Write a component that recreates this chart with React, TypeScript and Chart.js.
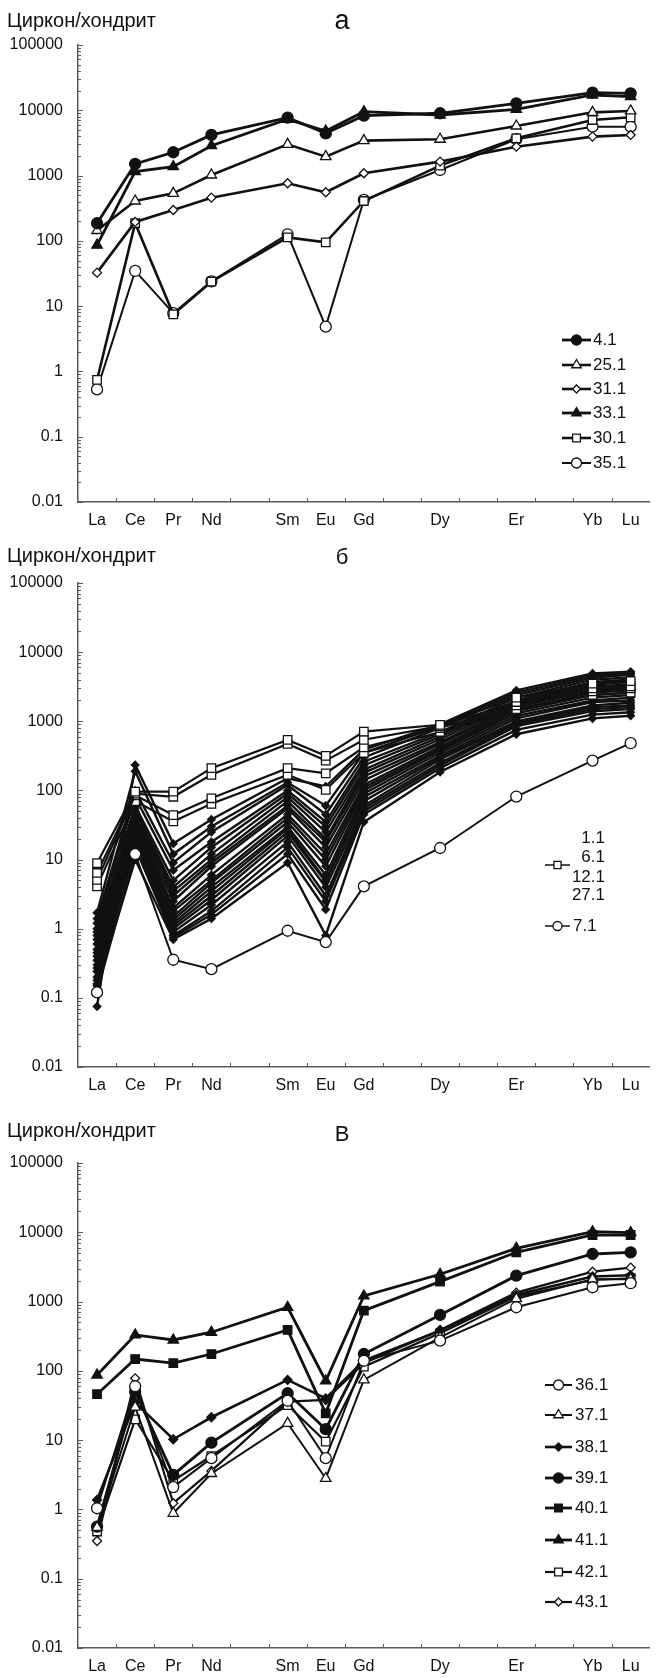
import React, { useEffect, useRef } from "react";
import { Chart, registerables } from "chart.js";
import { drawPoint } from "chart.js/helpers";

Chart.register(...registerables);

// ---------- categories ----------
const elements = ["La", "Ce", "Pr", "Nd", "Pm", "Sm", "Eu", "Gd", "Tb", "Dy", "Ho", "Er", "Tm", "Yb", "Lu"];
const axisLabels = ["La", "Ce", "Pr", "Nd", "", "Sm", "Eu", "Gd", "", "Dy", "", "Er", "", "Yb", "Lu"];
const measured = ["La", "Ce", "Pr", "Nd", "Sm", "Eu", "Gd", "Dy", "Er", "Yb", "Lu"];
const yTickValues = [0.01, 0.1, 1, 10, 100, 1000, 10000, 100000];
const yTickLabels = ["0.01", "0.1", "1", "10", "100", "1000", "10000", "100000"];

// ---------- panel а ----------
const s4_1 = [186, 1507, 2275, 4190, 7700, 4440, 8270, 9000, 12800, 18600, 18200];
const s25_1 = [144, 408, 535, 1020, 3010, 1950, 3430, 3600, 5750, 9300, 9770];
const s31_1 = [32.6, 195, 297, 459, 762, 555, 1085, 1636, 2770, 3950, 4190];
const s33_1 = [86, 1150, 1370, 2870, 7280, 4820, 9520, 8470, 10350, 17150, 16200];
const s30_1 = [0.74, 186, 7.5, 23.7, 113, 95, 408, 1420, 3720, 7100, 7810];
const s35_1 = [0.53, 34.6, 7.8, 24, 126, 4.85, 423, 1218, 3600, 5610, 5610];

// ---------- panel б ----------
const b1_1 = [8.9, 96, 96, 210, 538, 316, 710, 890, 2200, 3500, 3800];
const b6_1 = [6.4, 90, 81, 168, 471, 270, 540, 850, 1900, 3000, 3200];
const b12_1 = [5.1, 85, 44, 77, 210, 177, 420, 800, 1700, 2700, 3000];
const b27_1 = [4.1, 70, 35.6, 64, 168, 102, 350, 700, 1500, 2400, 2600];
const b7_1 = [0.12, 12, 0.356, 0.26, 0.935, 0.64, 4.1, 14.7, 81.6, 270, 482];
const bd01 = [0.075, 234, 17, 38, 150, 114, 390, 900, 2800, 4900, 5200];
const bd02 = [1.7, 190, 12, 30, 130, 60, 350, 850, 2600, 4600, 5000];
const bd03 = [1.4, 100, 9, 25, 120, 45, 300, 800, 2400, 4300, 4700];
const bd04 = [1.2, 80, 7, 18, 100, 35, 260, 700, 2200, 4000, 4300];
const bd05 = [1.0, 60, 5, 15, 90, 30, 230, 650, 2000, 3700, 4000];
const bd06 = [0.9, 55, 4, 12, 80, 25, 200, 600, 1900, 3400, 3700];
const bd07 = [0.8, 50, 3.5, 10, 70, 20, 180, 550, 1800, 3200, 3400];
const bd08 = [0.7, 45, 3, 9, 60, 18, 160, 500, 1700, 3000, 3200];
const bd09 = [0.6, 40, 2.5, 8, 55, 15, 140, 470, 1600, 2800, 3000];
const bd10 = [0.5, 38, 2.0, 6, 45, 12, 120, 430, 1500, 2600, 2800];
const bd11 = [0.45, 35, 1.8, 5, 40, 10, 110, 400, 1400, 2400, 2600];
const bd12 = [0.4, 32, 1.5, 4.6, 35, 8, 100, 380, 1300, 2200, 2400];
const bd13 = [0.35, 30, 1.35, 4, 30, 6, 90, 350, 1200, 2000, 2200];
const bd14 = [0.3, 28, 1.2, 3.5, 28, 5, 80, 320, 1100, 1900, 2000];
const bd15 = [0.27, 25, 1.1, 3, 25, 4.8, 70, 300, 1000, 1700, 1850];
const bd16 = [0.24, 22, 1.0, 2.6, 22, 4, 60, 280, 950, 1600, 1700];
const bd17 = [0.2, 20, 0.9, 2.2, 18, 3, 55, 250, 900, 1500, 1600];
const bd18 = [0.18, 18, 0.8, 1.8, 15, 2.5, 50, 230, 850, 1400, 1500];
const bd19 = [0.16, 15, 0.75, 1.6, 12, 1.9, 45, 210, 750, 1250, 1350];
const bd20 = [0.15, 10, 0.7, 1.4, 9, 0.8, 35, 185, 650, 1100, 1200];
const diamondSeriesB = [bd01, bd02, bd03, bd04, bd05, bd06, bd07, bd08, bd09, bd10, bd11, bd12, bd13, bd14, bd15, bd16, bd17, bd18, bd19, bd20];

// ---------- panel в ----------
const v36_1 = [1.04, 60, 2.1, 5.5, 37, 5.5, 140, 273, 828, 1610, 1840];
const v37_1 = [0.55, 30, 0.88, 3.3, 17.5, 2.8, 74, 305, 1100, 2100, 2100];
const v38_1 = [1.37, 35, 10.3, 21.4, 74, 40, 140, 380, 1250, 2300, 2400];
const v39_1 = [0.565, 50, 3.15, 9.2, 47.5, 14.4, 175, 641, 2365, 4860, 5140];
const v40_1 = [46, 148, 129, 175, 389, 24.4, 740, 1940, 5140, 9140, 9140];
const v41_1 = [87, 330, 279, 361, 828, 71.5, 1205, 2480, 5870, 10200, 9900];
const v42_1 = [0.48, 20, 2.6, 5.9, 32, 9.5, 115, 348, 1180, 2050, 2170];
const v43_1 = [0.35, 78, 1.23, 3.6, 36, 38, 129, 389, 1345, 2700, 3090];

// ---------- styles ----------
const FONT = "'Liberation Sans', Arial, sans-serif";
const AXIS = "#5a5a5a";
const INK = "#111";

function expand(vals: number[]) {
  return elements.map((e) => {
    const i = measured.indexOf(e);
    return i >= 0 ? vals[i] : null;
  });
}

type Mk = { style: string; filled: boolean; r: number; lw: number };
function ds(label: string, vals: number[], mk: Mk) {
  return {
    label,
    data: expand(vals),
    borderColor: INK,
    borderWidth: mk.lw,
    backgroundColor: mk.filled ? INK : "#fff",
    pointStyle: mk.style,
    pointRadius: mk.r,
    pointBackgroundColor: mk.filled ? INK : "#fff",
    pointBorderColor: INK,
    pointBorderWidth: 1.3,
    spanGaps: true,
    tension: 0,
  };
}

const M: Record<string, Mk> = {
  circF: { style: "circle", filled: true, r: 5.5, lw: 2.8 },
  circO: { style: "circle", filled: false, r: 5.5, lw: 2 },
  triF: { style: "triangle", filled: true, r: 6, lw: 2.8 },
  triO: { style: "triangle", filled: false, r: 6, lw: 2.6 },
  diaO: { style: "rectRot", filled: false, r: 4.5, lw: 2.6 },
  diaF: { style: "rectRot", filled: true, r: 4.5, lw: 2.6 },
  sqF: { style: "rect", filled: true, r: 6, lw: 2.8 },
  sqO: { style: "rect", filled: false, r: 6, lw: 2.6 },
};

function drawMarker(ctx: CanvasRenderingContext2D, mk: Mk, x: number, y: number) {
  ctx.save();
  ctx.fillStyle = mk.filled ? INK : "#fff";
  ctx.strokeStyle = INK;
  ctx.lineWidth = 1.3;
  drawPoint(ctx, { pointStyle: mk.style, radius: mk.r, rotation: 0, borderWidth: 1.3 } as any, x, y);
  ctx.restore();
}

function legendLine(ctx: CanvasRenderingContext2D, mk: Mk, x1: number, x2: number, y: number) {
  ctx.save();
  ctx.strokeStyle = INK;
  ctx.lineWidth = mk.lw;
  ctx.beginPath();
  ctx.moveTo(x1, y);
  ctx.lineTo(x2, y);
  ctx.stroke();
  ctx.restore();
  drawMarker(ctx, mk, (x1 + x2) / 2, y);
}

function textAt(ctx: CanvasRenderingContext2D, t: string, x: number, y: number, align: CanvasTextAlign) {
  ctx.save();
  ctx.fillStyle = INK;
  ctx.font = `17px ${FONT}`;
  ctx.textAlign = align;
  ctx.textBaseline = "middle";
  ctx.fillText(t, x, y);
  ctx.restore();
}

function makeDecorPlugin(legendDraw: (ctx: CanvasRenderingContext2D) => void) {
  return {
    id: "decor",
    afterDraw(chart: any) {
      const ctx = chart.ctx as CanvasRenderingContext2D;
      const x = chart.scales.x;
      const y = chart.scales.y;
      const area = chart.chartArea;
      ctx.save();
      ctx.strokeStyle = AXIS;
      ctx.lineWidth = 1;
      ctx.beginPath();
      for (let i = 0; i < elements.length - 1; i++) {
        const px = Math.round(x.getPixelForValue(i + 0.5)) + 0.5;
        ctx.moveTo(px, area.bottom);
        ctx.lineTo(px, area.bottom - 4);
      }
      for (let d = 0; d < yTickValues.length; d++) {
        const dec = yTickValues[d];
        const kmax = d === yTickValues.length - 1 ? 1 : 9;
        for (let k = 1; k <= kmax; k++) {
          const py = Math.round(y.getPixelForValue(dec * k)) + 0.5;
          ctx.moveTo(area.left, py);
          ctx.lineTo(area.left + (k === 1 ? 5 : 3), py);
        }
      }
      ctx.stroke();
      ctx.restore();
      legendDraw(ctx);
    },
  };
}

function makeConfig(datasets: any[], padTop: number, padBottom: number, legendDraw: (ctx: CanvasRenderingContext2D) => void) {
  return {
    type: "line",
    data: { labels: axisLabels, datasets },
    options: {
      animation: false,
      responsive: false,
      maintainAspectRatio: false,
      devicePixelRatio: 1,
      layout: { padding: { top: padTop, bottom: padBottom, left: 0, right: 0 } },
      plugins: {
        legend: { display: false },
        tooltip: { enabled: false },
      },
      scales: {
        x: {
          type: "category",
          offset: true,
          grid: { display: false, drawTicks: false },
          border: { display: true, color: AXIS, width: 1.5 },
          ticks: { color: INK, font: { family: FONT, size: 16 }, padding: 9, autoSkip: false, maxRotation: 0 },
          afterFit: (s: any) => {
            s.height = 30;
          },
        },
        y: {
          type: "logarithmic",
          min: 0.01,
          max: 100000,
          grid: { display: false, drawTicks: false },
          border: { display: true, color: AXIS, width: 1.5 },
          ticks: {
            color: INK,
            font: { family: FONT, size: 16 },
            padding: 15,
            callback: (v: any) => {
              const i = yTickValues.findIndex((t) => Math.abs(Math.log10(t) - Math.log10(v)) < 1e-6);
              return i >= 0 ? yTickLabels[i] : null;
            },
          },
          afterBuildTicks: (axis: any) => {
            axis.ticks = yTickValues.map((v) => ({ value: v }));
          },
          afterFit: (s: any) => {
            s.width = 78;
          },
        },
      },
    },
    plugins: [makeDecorPlugin(legendDraw)],
  } as any;
}

// ---------- panel configs ----------
const panelA = () => {
  const items: [string, number[], Mk][] = [
    ["4.1", s4_1, M.circF],
    ["25.1", s25_1, M.triO],
    ["31.1", s31_1, M.diaO],
    ["33.1", s33_1, M.triF],
    ["30.1", s30_1, M.sqO],
    ["35.1", s35_1, M.circO],
  ];
  const datasets = items.map(([l, v, m]) => ds(l, v, m));
  const rows = [340, 365, 389, 413, 438, 463];
  const legend = (ctx: CanvasRenderingContext2D) => {
    items.forEach(([l, , m], i) => {
      legendLine(ctx, { ...m, r: m.r - 0.5 }, 562, 591, rows[i]);
      textAt(ctx, l, 593, rows[i], "left");
    });
  };
  return makeConfig(datasets, 45, 8, legend);
};

const panelB = () => {
  const datasets: any[] = [];
  datasets.push(ds("7.1", b7_1, { style: "circle", filled: false, r: 5.5, lw: 2 }));
  const sqNames = ["1.1", "6.1", "12.1", "27.1"];
  [b1_1, b6_1, b12_1, b27_1].forEach((v, i) => datasets.push(ds(sqNames[i], v, { style: "rect", filled: false, r: 6, lw: 2.2 })));
  diamondSeriesB.forEach((v, i) => datasets.push(ds("d" + (i + 1), v, { style: "rectRot", filled: true, r: 3.8, lw: 2.4 })));
  const legend = (ctx: CanvasRenderingContext2D) => {
    const ys = [298, 317, 337, 355];
    sqNames.forEach((n, i) => textAt(ctx, n, 605, ys[i], "right"));
    legendLine(ctx, { style: "rect", filled: false, r: 5, lw: 1.5 }, 545, 570, 325);
    legendLine(ctx, { style: "circle", filled: false, r: 4.5, lw: 1.5 }, 545, 570, 386);
    textAt(ctx, "7.1", 573, 386, "left");
  };
  return makeConfig(datasets, 43, 3, legend);
};

const panelC = () => {
  const items: [string, number[], Mk][] = [
    ["36.1", v36_1, M.circO],
    ["37.1", v37_1, { ...M.triO, lw: 2 }],
    ["38.1", v38_1, M.diaF],
    ["39.1", v39_1, M.circF],
    ["40.1", v40_1, M.sqF],
    ["41.1", v41_1, M.triF],
    ["42.1", v42_1, { ...M.sqO, lw: 2.2 }],
    ["43.1", v43_1, { ...M.diaO, lw: 2.2 }],
  ];
  const datasets = items.map(([l, v, m]) => ds(l, v, m));
  const rows = [285, 315, 347, 378, 408, 440, 472, 502];
  const legend = (ctx: CanvasRenderingContext2D) => {
    items.forEach(([l, , m], i) => {
      legendLine(ctx, { ...m, r: m.r - 0.5 }, 545, 572, rows[i]);
      textAt(ctx, l, 575, rows[i], "left");
    });
  };
  return makeConfig(datasets, 63, 0, legend);
};

function Panel({ top, height, make, letter, titleY, letterY, letterSize }: any) {
  const ref = useRef<HTMLCanvasElement>(null);
  useEffect(() => {
    const chart = new Chart(ref.current as HTMLCanvasElement, make());
    return () => chart.destroy();
  }, []);
  return (
    <div style={{ position: "absolute", left: 0, top, width: 657, height }}>
      <canvas ref={ref} width={657} height={height} style={{ position: "absolute", left: 0, top: 0, width: 657, height }} />
      <div style={{ position: "absolute", left: 7, top: titleY - 12, fontFamily: FONT, fontSize: 20, lineHeight: "24px", color: INK, whiteSpace: "nowrap" }}>
        Циркон/хондрит
      </div>
      <div style={{ position: "absolute", left: 342 - 25, width: 50, textAlign: "center", top: letterY - 16, fontFamily: FONT, fontSize: letterSize, lineHeight: "32px", color: INK }}>
        {letter}
      </div>
    </div>
  );
}

export default function App() {
  useEffect(() => {
    document.body.style.margin = "0";
  }, []);
  return (
    <div style={{ position: "relative", width: 657, height: 1678, background: "#fff", overflow: "hidden" }}>
      <Panel top={0} height={540} make={panelA} letter="а" titleY={20} letterY={20} letterSize={27} />
      <Panel top={540} height={560} make={panelB} letter="б" titleY={15} letterY={17} letterSize={22} />
      <Panel top={1100} height={578} make={panelC} letter="В" titleY={30} letterY={34} letterSize={22} />
    </div>
  );
}
